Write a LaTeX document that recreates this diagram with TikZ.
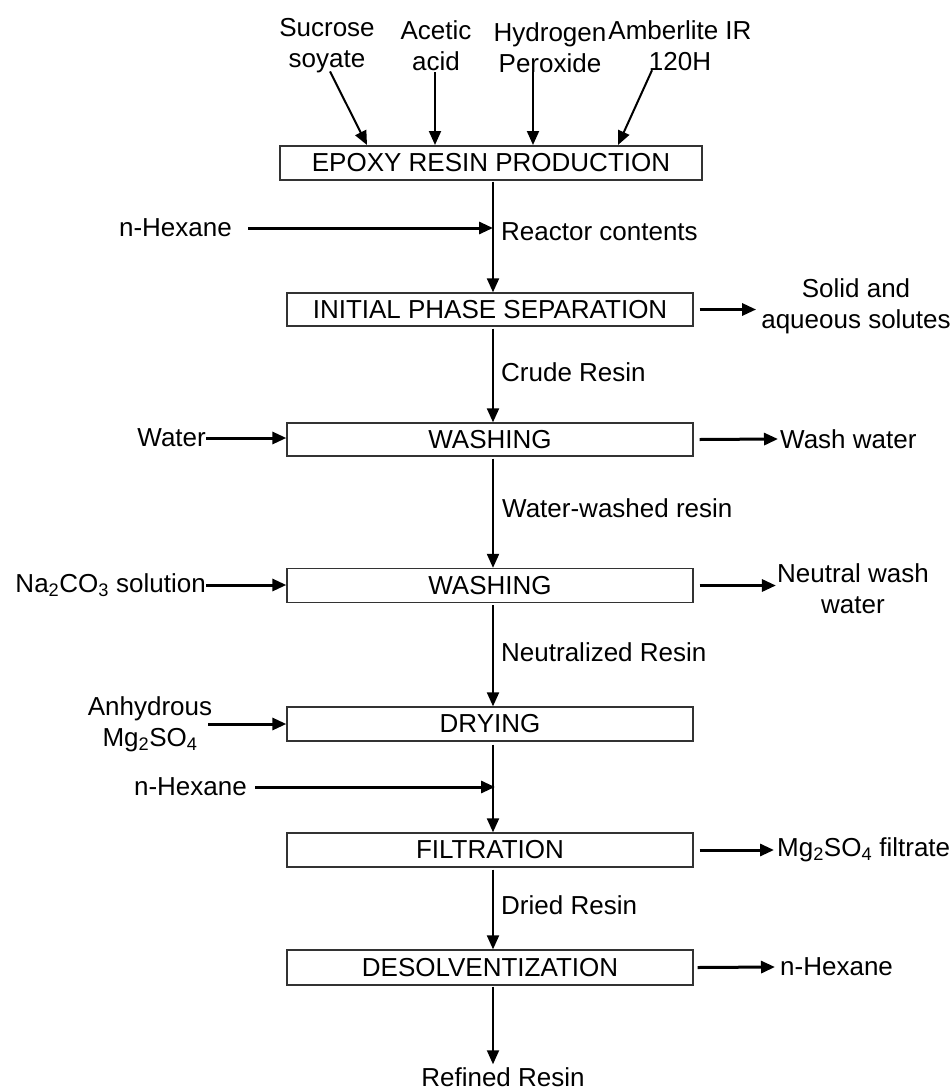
\documentclass[tikz,border=0pt]{standalone}
\usepackage{fontspec}
\setmainfont{Liberation Sans}
\usetikzlibrary{arrows.meta}
\begin{document}
\begin{tikzpicture}[x=1pt,y=-1pt,
  box/.style={draw=black!80,line width=1.3pt,minimum width=406pt,minimum height=34pt,inner sep=0pt,font=\fontsize{26}{31}\selectfont},
  lbl/.style={inner sep=0pt,font=\fontsize{26}{31}\selectfont,align=center},
  flow/.style={line width=2pt,-{Triangle[length=14pt,width=12pt]}},
  side/.style={line width=3pt,-{Triangle[length=14pt,width=12pt]}}]
\useasboundingbox (0,0) rectangle (950,1092);

% process boxes
\node[box,minimum width=422pt] (epoxy) at (491,163) {EPOXY RESIN PRODUCTION};
\node[box,minimum height=33pt] (sep) at (490,309.5) {INITIAL PHASE SEPARATION};
\node[box,minimum height=33pt] (wash1) at (490,439.5) {WASHING};
\node[box] (wash2) at (490,585.5) {WASHING};
\node[box] (dry) at (490,724) {DRYING};
\node[box] (filt) at (490,850) {FILTRATION};
\node[box,minimum height=35pt] (desolv) at (490,967.5) {DESOLVENTIZATION};

% top feeds
\node[lbl] (suc) at (327,46) {Sucrose\\soyate};
\node[lbl] (ace) at (436,46) {Acetic\\acid};
\node[lbl] (hyd) at (550,48) {Hydrogen\\Peroxide};
\node[lbl] (amb) at (680,46) {Amberlite IR\\120H};
\coordinate (t1) at (367,145);
\coordinate (t2) at (435,145);
\coordinate (t3) at (533,145);
\coordinate (t4) at (618,145);
\draw[flow] ([xshift=3pt,yshift=2pt]suc.south) -- (t1);
\draw[flow] ([xshift=-1pt,yshift=-1pt]ace.south) -- (t2);
\draw[flow] ([xshift=-17pt,yshift=1pt]hyd.south) -- (t3);
\draw[flow] ([xshift=-28pt,yshift=1pt]amb.south) -- (t4);

% main line labels
\node[lbl,anchor=west] (rc) at (501,232) {Reactor contents};
\node[lbl,anchor=west] (cr) at (501,372) {Crude Resin};
\node[lbl,anchor=west] (wwr) at (502,508) {Water-washed resin};
\node[lbl,anchor=west] (nr) at (501,652) {Neutralized Resin};
\node[lbl,anchor=west] (drr) at (501,905) {Dried Resin};
\node[lbl] (ref) at (503,1077) {Refined Resin};

% main vertical flow
\draw[flow,shorten <=1pt] ([xshift=2pt]epoxy.south) -- ([xshift=3pt]sep.north);
\draw[flow,shorten <=2pt] ([xshift=3pt]sep.south) -- ([xshift=3pt]wash1.north);
\draw[flow,shorten <=2pt] ([xshift=3pt]wash1.south) -- ([xshift=3pt]wash2.north);
\draw[flow,shorten <=2pt] ([xshift=3pt]wash2.south) -- ([xshift=3pt]dry.north);
\draw[flow] ([xshift=3pt,yshift=-3pt]dry.south) -- ([xshift=3pt]filt.north);
\draw[flow,shorten <=2pt] ([xshift=3pt]filt.south) -- ([xshift=3pt]desolv.north);
\draw[flow,shorten <=1pt,shorten >=3pt] ([xshift=3pt]desolv.south) -- ([xshift=3pt]desolv.south |- ref.north);

% left feeds
\node[lbl,anchor=east] (hex1) at (232,228) {n-Hexane};
\coordinate (j1) at (493,228);
\draw[side] ([xshift=16pt]hex1.east) -- (j1);

\node[lbl,anchor=east] (water) at (206,438) {Water};
\draw[side] (water.east) -- (water.east -| wash1.west);

\node[lbl,anchor=east] (soda) at (206,585) {Na\textsubscript{2}CO\textsubscript{3} solution};
\draw[side] (soda.east) -- (soda.east -| wash2.west);

\node[lbl] (anh) at (150,724) {Anhydrous\\Mg\textsubscript{2}SO\textsubscript{4}};
\draw[side] ([xshift=-4pt]anh.east) -- (anh.east -| dry.west);

\node[lbl,anchor=east] (hex2) at (247,787) {n-Hexane};
\coordinate (j2) at (495,787);
\draw[side] ([xshift=8pt]hex2.east) -- (j2);

% right products
\node[lbl] (solid) at (856,306) {Solid and\\aqueous solutes};
\draw[side] ([xshift=6pt]sep.east) -- ([xshift=-5pt]sep.east -| solid.west);

\node[lbl,anchor=west] (ww) at (780,439) {Wash water};
\draw[side] ([xshift=6pt]wash1.east) -- ([xshift=-2pt]ww.west);

\node[lbl] (nww) at (853,589) {Neutral wash\\water};
\draw[side] ([xshift=6pt]wash2.east) -- ([xshift=-1pt]wash2.east -| nww.west);

\node[lbl,anchor=west] (mgf) at (777,850) {Mg\textsubscript{2}SO\textsubscript{4} filtrate};
\draw[side] ([xshift=6pt]filt.east) -- ([xshift=-3pt]mgf.west);

\node[lbl,anchor=west] (hexo) at (780,967) {n-Hexane};
\draw[side] ([xshift=4pt]desolv.east) -- ([xshift=-5pt]hexo.west);
\end{tikzpicture}
\end{document}
